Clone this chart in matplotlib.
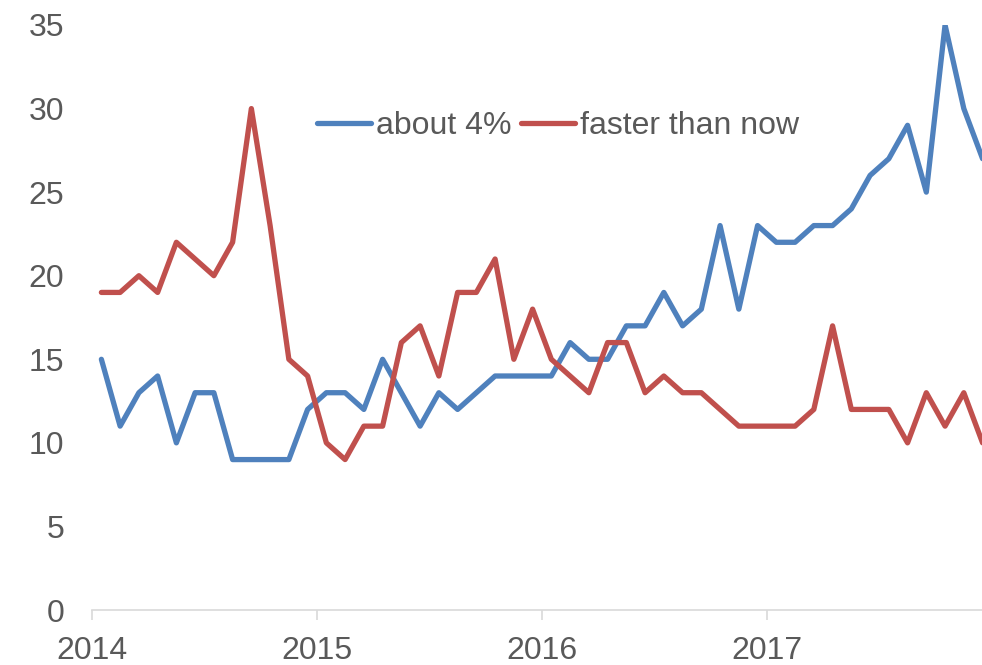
import numpy as np
import matplotlib.pyplot as plt

# monthly survey shares, Jan 2014 - Dec 2017
about_4 = [15, 11, 13, 14, 10, 13, 13, 9, 9, 9,
           9, 12, 13, 13, 12, 15, 13, 11, 13, 12,
           13, 14, 14, 14, 14, 16, 15, 15, 17, 17,
           19, 17, 18, 23, 18, 23, 22, 22, 23, 23,
           24, 26, 27, 29, 25, 35, 30, 27]
faster = [19, 19, 20, 19, 22, 21, 20, 22, 30, 23,
          15, 14, 10, 9, 11, 11, 16, 17, 14, 19,
          19, 21, 15, 18, 15, 14, 13, 16, 16, 13,
          14, 13, 13, 12, 11, 11, 11, 11, 12, 17,
          12, 12, 12, 10, 13, 11, 13, 10]
years = ["2014", "2015", "2016", "2017"]
series_names = ["about 4%", "faster than now"]

plt.rcParams['font.family'] = ['Liberation Sans', 'DejaVu Sans']
grey = '#595959'

fig = plt.figure(figsize=(9.82, 6.65), dpi=100)
ax = fig.add_axes([92 / 982, 55 / 665, 890 / 982, 585 / 665])

# points sit in the middle of each month
x = np.arange(len(about_4)) + 0.5
ax.plot(x, about_4, color='#4F81BD', lw=3.8, solid_joinstyle='round',
        solid_capstyle='round', label=series_names[0])
ax.plot(x, faster, color='#C0504D', lw=3.8, solid_joinstyle='round',
        solid_capstyle='round', label=series_names[1])

ax.set_xlim(0, 47.47)
ax.set_ylim(0, 35)
ax.set_yticks(np.arange(0, 36, 5))
ax.set_xticks(np.arange(len(years)) * 12)
ax.set_xticklabels(years)

for s in ['top', 'right', 'left']:
    ax.spines[s].set_visible(False)
ax.spines['bottom'].set_color('#D9D9D9')
ax.spines['bottom'].set_linewidth(1.2)
ax.tick_params(axis='x', direction='out', length=7, width=1.2, color='#D9D9D9',
               pad=12, labelsize=23, labelcolor=grey)
ax.tick_params(axis='y', length=0, pad=20, labelsize=23, labelcolor=grey)

leg = fig.legend(loc='center', bbox_to_anchor=(0.568, 0.8105), ncol=2,
                 frameon=False, fontsize=23, handlelength=1.7,
                 handletextpad=0.15, columnspacing=0.3, borderpad=0)
for t in leg.get_texts():
    t.set_color(grey)

fig.savefig("out.png", dpi=100)
